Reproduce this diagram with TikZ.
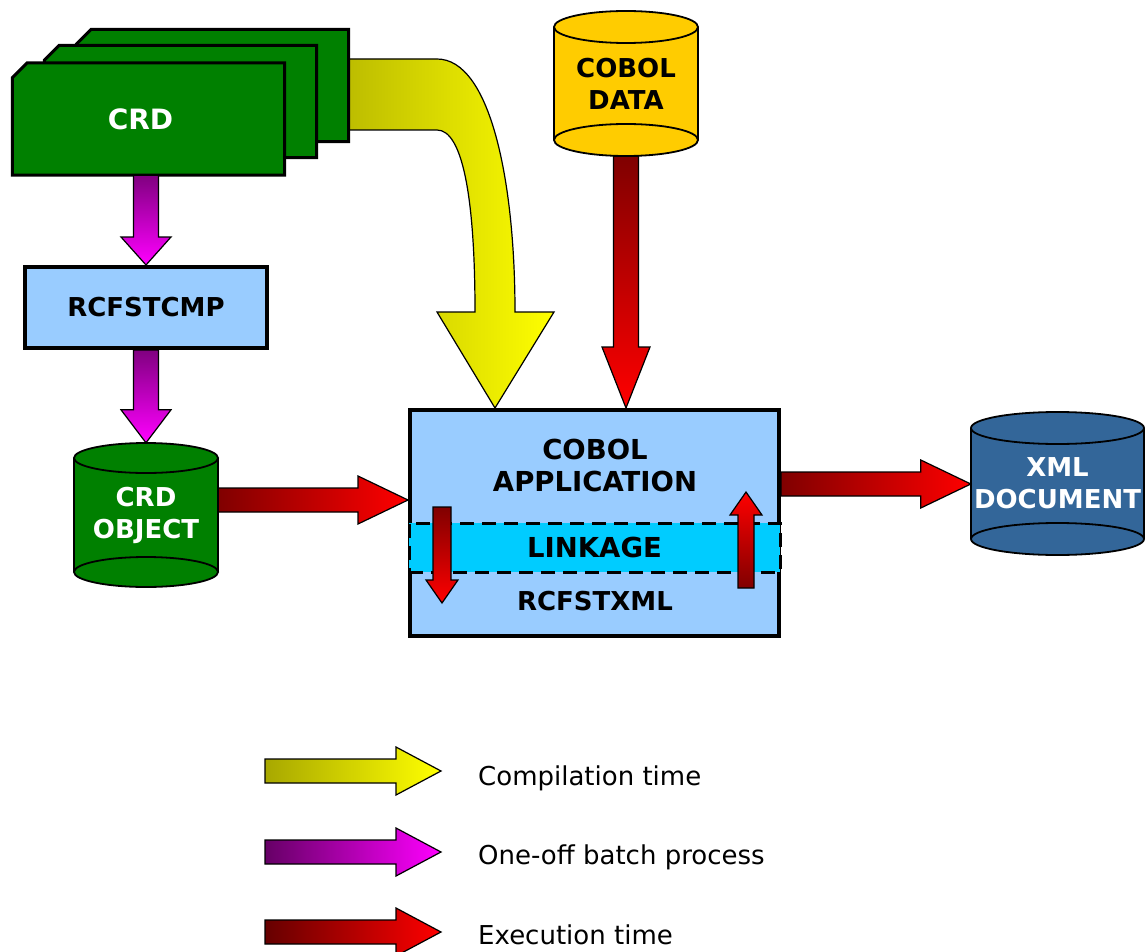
\documentclass[tikz,border=0pt]{standalone}
\usepackage{fontspec}
\setmainfont{DejaVu Sans}
\usetikzlibrary{calc,backgrounds}
\definecolor{cardgreen}{HTML}{008000}
\definecolor{boxblue}{HTML}{99CCFF}
\definecolor{linkcyan}{HTML}{00CCFF}
\definecolor{dbyellow}{HTML}{FFCC00}
\definecolor{xmlblue}{HTML}{336699}
\definecolor{olive1}{HTML}{BDBD00}
\definecolor{olive2}{HTML}{A8A800}
\definecolor{maroon1}{HTML}{800000}
\definecolor{maroon2}{HTML}{660000}
\definecolor{purple1}{HTML}{800080}
\definecolor{purple2}{HTML}{660066}
\definecolor{magenta1}{HTML}{FF00FF}
\definecolor{red1}{HTML}{FF0000}
\newcommand\labfont{\bfseries\fontsize{26}{32}\selectfont}
\newcommand\biglabfont{\bfseries\fontsize{27.5}{32}\selectfont}
\newcommand\legfont{\fontsize{26}{32}\selectfont}
\newcommand\blockdown[6]{\path[#6] let \p1=(#1), \p2=(#2) in
  (\x1-#3pt,\y1) -- (\x1+#3pt,\y1) -- (\x1+#3pt,\y2+#5pt) -- (\x1+#4pt,\y2+#5pt) -- (\x1,\y2)
  -- (\x1-#4pt,\y2+#5pt) -- (\x1-#3pt,\y2+#5pt) -- cycle;}
\newcommand\blockup[6]{\path[#6] let \p1=(#1), \p2=(#2) in
  (\x1-#3pt,\y1) -- (\x1+#3pt,\y1) -- (\x1+#3pt,\y2-#5pt) -- (\x1+#4pt,\y2-#5pt) -- (\x1,\y2)
  -- (\x1-#4pt,\y2-#5pt) -- (\x1-#3pt,\y2-#5pt) -- cycle;}
\newcommand\blockright[6]{\path[#6] let \p1=(#1), \p2=(#2) in
  (\x1,\y1+#3pt) -- (\x2-#5pt,\y1+#3pt) -- (\x2-#5pt,\y1+#4pt) -- (\x2,\y1)
  -- (\x2-#5pt,\y1-#4pt) -- (\x2-#5pt,\y1-#3pt) -- (\x1,\y1-#3pt) -- cycle;}
\newcommand\cardshape[1]{\draw[cardline] ($(#1.north west)+(0,15)$) -- ($(#1.north west)+(15,0)$)
  -- (#1.north east) -- (#1.south east) -- (#1.south west) -- cycle;}
\newcommand\drum[9]{%
  \fill[#7] (#2,#4-#6) ellipse [x radius=#5,y radius=#6];
  \fill[#7] (#2-#5,#3+#6) rectangle (#2+#5,#4-#6);
  \draw[drumline] (#2,#4-#6) ellipse [x radius=#5,y radius=#6];
  \draw[drumline] (#2-#5,#3+#6) -- (#2-#5,#4-#6) (#2+#5,#3+#6) -- (#2+#5,#4-#6);
  \draw[drumline,fill=#7] (#2,#3+#6) ellipse [x radius=#5,y radius=#6];
  \node[drumtext,text=#8,minimum width={2*#5pt},minimum height={(#4-#3)*1pt}] (#1) at (#2,{(#3+#4)/2}) {#9};}
\begin{document}
\begin{tikzpicture}[x=1pt,y=-1pt,
  cardnode/.style={minimum width=272pt,minimum height=112pt,inner sep=0pt},
  cardline/.style={draw,line width=3pt,fill=cardgreen,line join=miter},
  box/.style={draw,line width=4pt,fill=boxblue,inner sep=0pt},
  band/.style={draw,fill=linkcyan,line width=3pt,dash pattern=on 14pt off 8pt,inner sep=0pt},
  drumline/.style={line width=1.8pt},
  drumtext/.style={inner sep=0pt,align=center,font=\labfont},
  blk/.style={draw,line width=1.2pt,line join=miter},
  purplearrow/.style={blk,top color=purple1,bottom color=magenta1},
  redv/.style={blk,top color=maroon1,bottom color=red1},
  redup/.style={blk,top color=red1,bottom color=maroon1},
  redh/.style={blk,left color=maroon1,right color=red1},
  yellowarrow/.style={blk,left color=olive1,right color=yellow},
  ylegend/.style={blk,left color=olive2,right color=yellow},
  plegend/.style={blk,left color=purple2,right color=magenta1},
  rlegend/.style={blk,left color=maroon2,right color=red1},
  legend/.style={font=\legfont,anchor=base west,inner sep=0pt}]
\useasboundingbox (0,0) rectangle (1145,952);
% CRD cards (shapes drawn on the background layer)
\node[cardnode] (crd3) at (212.5,85.5) {};
\node[cardnode] (crd2) at (180.5,101.5) {};
\node[cardnode,text=white,font=\bfseries\fontsize{28}{32}\selectfont] (crd) at (148.5,119) {CRD\hspace*{16pt}};
% RCFSTCMP
\node[box,minimum width=242pt,minimum height=81pt,font=\labfont] (rcf) at (146,307.5) {RCFSTCMP};
% cylinders
\drum{crdobj}{146}{443}{587}{72}{15}{cardgreen}{white}{CRD\\OBJECT}
\drum{cobdata}{626}{11}{156}{72}{16}{dbyellow}{black}{COBOL\\DATA}
\drum{xmldoc}{1057.5}{412}{555}{86.5}{16}{xmlblue}{white}{XML\\DOCUMENT}
% application box
\node[box,minimum width=369pt,minimum height=226pt] (app) at (594.5,523) {};
\node[band,minimum width=371pt,minimum height=49pt,font=\biglabfont] (link) at (594.5,547.5) {LINKAGE};
\node[font=\biglabfont,align=center,inner sep=0pt] (apptitle) at (595,465) {COBOL\\APPLICATION};
\node[font=\labfont,inner sep=0pt] (fstxml) at (595,601) {RCFSTXML};
% background: compilation arrow and cards
\begin{scope}[on background layer]
\path[yellowarrow] (crd3.east |- 0,59) -- (437,59) .. controls (490,59) and (515,180) .. (515,312)
  -- (554,312) -- (495,0 |- app.north) -- (437,312) -- (475,312)
  .. controls (475,195) and (462,130) .. (437,130) -- (crd3.east |- 0,130) -- cycle;
\cardshape{crd3}
\cardshape{crd2}
\cardshape{crd}
\end{scope}
% connectors
\blockdown{crd.south -| rcf.north}{rcf.north}{12.5}{25}{28}{purplearrow}
\blockdown{rcf.south}{crdobj.north}{12.5}{25}{33}{purplearrow}
\blockdown{cobdata.south}{app.north -| cobdata.south}{12.5}{24}{61}{redv}
\blockright{$(crdobj.east)+(0,-15)$}{app.west}{12}{24}{50}{redh}
\blockright{$(app.east)+(0,-39)$}{xmldoc.west}{12}{24}{50}{redh}
\coordinate (dA) at (442,507);
\coordinate (dB) at (442,603);
\coordinate (uA) at (746,588);
\coordinate (uB) at (746,492);
\blockdown{dA}{dB}{9}{16}{23}{redv}
\blockup{uA}{uB}{8}{16}{23}{redup}
% legend
\coordinate (l1a) at (265,771); \coordinate (l1b) at (441,771);
\coordinate (l2a) at (265,852); \coordinate (l2b) at (441,852);
\coordinate (l3a) at (265,932); \coordinate (l3b) at (441,932);
\blockright{l1a}{l1b}{12}{24}{45}{ylegend}
\blockright{l2a}{l2b}{12}{24}{45}{plegend}
\blockright{l3a}{l3b}{12}{24}{45}{rlegend}
\node[legend] (t1) at (478,785) {Compilation time};
\node[legend] (t2) at (478,864) {One-off batch process};
\node[legend] (t3) at (478,944) {Execution time};
\end{tikzpicture}
\end{document}
